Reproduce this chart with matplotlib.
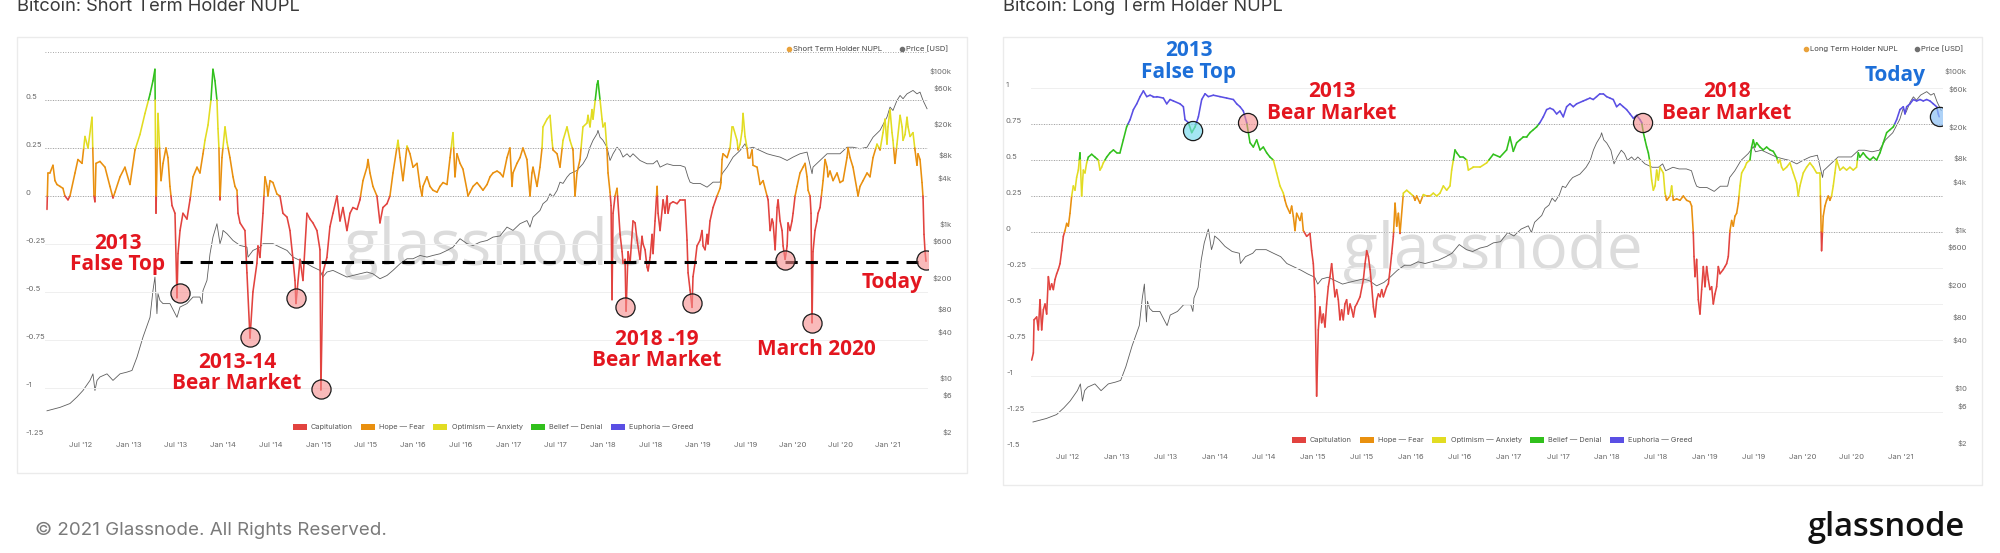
import numpy as np
import matplotlib
matplotlib.use("Agg")
import matplotlib.pyplot as plt
from matplotlib.collections import LineCollection
from matplotlib.patches import Rectangle, Patch
from matplotlib.lines import Line2D
from matplotlib.ticker import NullLocator

# ---- data (time in decimal years) ----

# Short Term Holder NUPL
sth_t = [2012.142, 2012.152, 2012.173, 2012.205, 2012.226, 2012.247, 2012.279, 2012.310, 2012.331, 2012.363, 2012.384, 2012.437, 2012.468, 2012.511, 2012.542, 2012.574, 2012.616, 2012.637, 2012.647, 2012.658, 2012.700, 2012.753, 2012.805, 2012.837, 2012.858, 2012.911, 2012.963,
         2013.016, 2013.069, 2013.121, 2013.174, 2013.227, 2013.258, 2013.279, 2013.290, 2013.311, 2013.343, 2013.364, 2013.395, 2013.416, 2013.437, 2013.459, 2013.490, 2013.511, 2013.522, 2013.543, 2013.574, 2013.616, 2013.648, 2013.680, 2013.722, 2013.753, 2013.785, 2013.806, 2013.838, 2013.869, 2013.890, 2013.911, 2013.932, 2013.943, 2013.953, 2013.964, 2013.985,
         2014.017, 2014.038, 2014.069, 2014.101, 2014.122, 2014.143, 2014.154, 2014.175, 2014.227, 2014.248, 2014.280, 2014.311, 2014.353, 2014.364, 2014.385, 2014.417, 2014.438, 2014.459, 2014.469, 2014.491, 2014.522, 2014.564, 2014.596, 2014.627, 2014.670, 2014.701, 2014.733, 2014.754, 2014.764, 2014.807, 2014.838, 2014.880, 2014.912, 2014.943, 2014.985,
         2015.017, 2015.027, 2015.048, 2015.090, 2015.122, 2015.154, 2015.196, 2015.228, 2015.259, 2015.301, 2015.333, 2015.364, 2015.407, 2015.438, 2015.470, 2015.512, 2015.523, 2015.544, 2015.575, 2015.617, 2015.649, 2015.680, 2015.723, 2015.754, 2015.786, 2015.839, 2015.860, 2015.891, 2015.934, 2015.965, 2015.997,
         2016.039, 2016.071, 2016.092, 2016.102, 2016.144, 2016.176, 2016.207, 2016.250, 2016.281, 2016.313, 2016.355, 2016.387, 2016.418, 2016.439, 2016.460, 2016.492, 2016.523, 2016.566, 2016.576, 2016.597, 2016.629, 2016.671, 2016.703, 2016.734, 2016.777, 2016.808, 2016.840, 2016.882, 2016.913, 2016.945, 2016.987,
         2017.018, 2017.040, 2017.050, 2017.092, 2017.124, 2017.155, 2017.197, 2017.229, 2017.250, 2017.261, 2017.303, 2017.334, 2017.356, 2017.366, 2017.408, 2017.440, 2017.461, 2017.471, 2017.514, 2017.545, 2017.577, 2017.619, 2017.650, 2017.682, 2017.703, 2017.724, 2017.756, 2017.787, 2017.829, 2017.840, 2017.861, 2017.882, 2017.893, 2017.935, 2017.945, 2017.967, 2017.988, 2017.998,
         2018.019, 2018.040, 2018.051, 2018.072, 2018.083, 2018.093, 2018.104, 2018.125, 2018.146, 2018.178, 2018.199, 2018.209, 2018.230, 2018.241, 2018.262, 2018.283, 2018.314, 2018.336, 2018.357, 2018.388, 2018.409, 2018.420, 2018.441, 2018.462, 2018.473, 2018.494, 2018.515, 2018.525, 2018.546, 2018.568, 2018.578, 2018.599, 2018.631, 2018.652, 2018.673, 2018.683, 2018.704, 2018.736, 2018.778, 2018.810, 2018.841, 2018.862, 2018.883, 2018.894, 2018.915, 2018.936, 2018.946, 2018.967, 2018.988,
         2019.020, 2019.041, 2019.052, 2019.073, 2019.094, 2019.104, 2019.125, 2019.157, 2019.199, 2019.231, 2019.241, 2019.252, 2019.262, 2019.305, 2019.336, 2019.357, 2019.368, 2019.410, 2019.421, 2019.442, 2019.463, 2019.473, 2019.494, 2019.515, 2019.526, 2019.547, 2019.568, 2019.578, 2019.621, 2019.652, 2019.684, 2019.726, 2019.737, 2019.758, 2019.779, 2019.790, 2019.811, 2019.832, 2019.842, 2019.863, 2019.884, 2019.895, 2019.916, 2019.937, 2019.947, 2019.968, 2019.989,
         2020.000, 2020.021, 2020.042, 2020.073, 2020.105, 2020.126, 2020.147, 2020.158, 2020.179, 2020.189, 2020.200, 2020.210, 2020.231, 2020.252, 2020.263, 2020.284, 2020.305, 2020.316, 2020.337, 2020.358, 2020.368, 2020.389, 2020.421, 2020.463, 2020.494, 2020.526, 2020.568, 2020.579, 2020.600, 2020.631, 2020.674, 2020.684, 2020.705, 2020.737, 2020.779, 2020.810, 2020.842, 2020.884, 2020.916, 2020.947, 2020.968, 2020.989,
         2021.000, 2021.021, 2021.042, 2021.052, 2021.073, 2021.094, 2021.127, 2021.148, 2021.158, 2021.179, 2021.200, 2021.211, 2021.232, 2021.263, 2021.284, 2021.305, 2021.316, 2021.337, 2021.358, 2021.369, 2021.379, 2021.390, 2021.400]
sth_v = [-0.07, 0.12, 0.12, 0.16, 0.08, 0.06, 0.05, 0.04, 0.00, -0.02, 0.00, 0.12, 0.19, 0.17, 0.31, 0.25, 0.41, 0.00, -0.03, 0.17, 0.18, 0.15, 0.05, -0.01, 0.02, 0.10, 0.15,
         0.06, 0.24, 0.32, 0.43, 0.53, 0.60, 0.66, -0.09, 0.43, 0.08, 0.17, 0.25, 0.20, 0.05, -0.05, -0.09, -0.53, -0.30, -0.18, -0.09, -0.12, -0.02, 0.10, 0.15, 0.12, 0.22, 0.29, 0.37, 0.50, 0.66, 0.60, 0.50, 0.35, 0.25, -0.02, 0.20,
         0.36, 0.28, 0.20, 0.10, 0.05, 0.03, -0.09, -0.14, -0.18, -0.40, -0.74, -0.50, -0.35, -0.26, -0.32, -0.09, 0.10, 0.05, 0.00, 0.08, 0.07, 0.01, 0.00, -0.09, -0.11, -0.18, -0.33, -0.44, -0.56, -0.33, -0.44, -0.09, -0.12, -0.14, -0.18,
         -0.28, -1.01, -0.40, -0.32, -0.16, -0.09, 0.00, -0.13, -0.06, -0.18, -0.09, -0.06, -0.07, -0.02, 0.08, 0.15, 0.19, 0.12, 0.05, 0.00, -0.14, -0.06, -0.04, 0.00, 0.12, 0.29, 0.20, 0.08, 0.26, 0.22, 0.15,
         0.17, 0.05, 0.00, 0.05, 0.10, 0.05, 0.03, 0.02, 0.05, 0.07, 0.06, 0.20, 0.33, 0.10, 0.22, 0.17, 0.14, 0.03, 0.00, 0.02, 0.05, 0.07, 0.05, 0.03, 0.06, 0.10, 0.12, 0.13, 0.12, 0.10, 0.20,
         0.25, 0.05, 0.12, 0.17, 0.20, 0.25, 0.19, 0.00, 0.12, 0.15, 0.05, 0.15, 0.25, 0.36, 0.40, 0.42, 0.29, 0.24, 0.22, 0.15, 0.29, 0.36, 0.29, 0.24, 0.00, 0.12, 0.19, 0.36, 0.38, 0.42, 0.36, 0.45, 0.40, 0.58, 0.60, 0.50, 0.40, 0.36,
         0.38, 0.24, 0.12, 0.02, -0.05, -0.54, -0.09, 0.00, 0.04, -0.20, -0.29, -0.35, -0.33, -0.60, -0.29, -0.35, -0.13, -0.14, -0.23, -0.33, -0.21, -0.25, -0.28, -0.37, -0.39, -0.32, -0.20, -0.30, -0.13, 0.05, -0.09, -0.18, -0.02, -0.09, 0.00, -0.09, -0.04, -0.03, -0.04, -0.02, -0.02, -0.02, -0.23, -0.40, -0.49, -0.58, -0.42, -0.35, -0.26,
         -0.23, -0.18, -0.26, -0.28, -0.20, -0.25, -0.13, -0.06, 0.00, 0.04, 0.07, 0.19, 0.22, 0.20, 0.25, 0.36, 0.36, 0.29, 0.24, 0.27, 0.34, 0.43, 0.31, 0.25, 0.20, 0.20, 0.24, 0.16, 0.15, 0.06, 0.08, 0.00, -0.02, -0.18, -0.12, -0.14, -0.28, -0.06, -0.02, -0.13, -0.18, -0.26, -0.33, -0.26, -0.14, -0.18, -0.13,
         -0.09, 0.00, 0.05, 0.12, 0.15, 0.17, 0.10, 0.03, 0.00, -0.09, -0.66, -0.29, -0.18, -0.13, -0.09, -0.06, 0.03, 0.08, 0.19, 0.15, 0.10, 0.13, 0.08, 0.12, 0.07, 0.08, 0.20, 0.25, 0.20, 0.15, 0.03, 0.00, 0.05, 0.08, 0.12, 0.10, 0.20, 0.27, 0.24, 0.33, 0.40, 0.27,
         0.36, 0.45, 0.33, 0.29, 0.17, 0.27, 0.42, 0.36, 0.29, 0.32, 0.41, 0.36, 0.31, 0.33, 0.24, 0.16, 0.22, 0.19, 0.07, -0.01, -0.20, -0.29, -0.34]

# Long Term Holder NUPL
lth_t = [2012.129, 2012.146, 2012.153, 2012.180, 2012.197, 2012.214, 2012.231, 2012.248, 2012.265, 2012.282, 2012.299, 2012.316, 2012.333, 2012.350, 2012.367, 2012.384, 2012.401, 2012.418, 2012.435, 2012.452, 2012.469, 2012.486, 2012.503, 2012.520, 2012.537, 2012.554, 2012.571, 2012.588, 2012.605, 2012.622, 2012.639, 2012.656, 2012.673, 2012.690, 2012.707, 2012.741, 2012.775, 2012.809, 2012.826, 2012.843, 2012.860, 2012.894, 2012.928, 2012.963, 2012.997,
         2013.030, 2013.064, 2013.098, 2013.133, 2013.167, 2013.201, 2013.235, 2013.269, 2013.303, 2013.337, 2013.371, 2013.405, 2013.473, 2013.507, 2013.541, 2013.575, 2013.643, 2013.677, 2013.694, 2013.728, 2013.762, 2013.796, 2013.830, 2013.864, 2013.898, 2013.932, 2013.983, 2014.051, 2014.119, 2014.187, 2014.221, 2014.255, 2014.289, 2014.323, 2014.340, 2014.357, 2014.391, 2014.425, 2014.459, 2014.493, 2014.527, 2014.561, 2014.595, 2014.629, 2014.663, 2014.697, 2014.714, 2014.731, 2014.765, 2014.782, 2014.799, 2014.816, 2014.833, 2014.867, 2014.884, 2014.901, 2014.935, 2014.969, 2014.986,
         2015.003, 2015.020, 2015.037, 2015.054, 2015.071, 2015.088, 2015.105, 2015.122, 2015.139, 2015.156, 2015.173, 2015.190, 2015.207, 2015.224, 2015.241, 2015.258, 2015.275, 2015.292, 2015.309, 2015.326, 2015.343, 2015.360, 2015.378, 2015.395, 2015.412, 2015.429, 2015.446, 2015.480, 2015.514, 2015.531, 2015.548, 2015.565, 2015.582, 2015.599, 2015.616, 2015.633, 2015.650, 2015.667, 2015.684, 2015.701, 2015.718, 2015.752, 2015.769, 2015.786, 2015.803, 2015.820, 2015.837, 2015.854, 2015.871, 2015.888, 2015.922, 2015.956, 2015.990,
         2016.024, 2016.041, 2016.058, 2016.092, 2016.126, 2016.160, 2016.194, 2016.228, 2016.262, 2016.296, 2016.330, 2016.364, 2016.398, 2016.415, 2016.449, 2016.466, 2016.500, 2016.534, 2016.568, 2016.585, 2016.636, 2016.704, 2016.772, 2016.840, 2016.908, 2016.976,
         2017.010, 2017.044, 2017.078, 2017.112, 2017.146, 2017.180, 2017.214, 2017.248, 2017.282, 2017.316, 2017.350, 2017.384, 2017.418, 2017.452, 2017.486, 2017.520, 2017.554, 2017.588, 2017.622, 2017.656, 2017.690, 2017.758, 2017.792, 2017.826, 2017.860, 2017.894, 2017.928, 2017.962, 2017.996, 2018.030, 2018.064, 2018.098, 2018.132, 2018.166, 2018.200, 2018.235, 2018.269, 2018.303, 2018.337, 2018.354, 2018.371, 2018.388, 2018.405, 2018.422, 2018.439, 2018.456, 2018.473, 2018.490, 2018.507, 2018.524, 2018.541, 2018.575, 2018.592, 2018.609, 2018.643, 2018.660, 2018.677, 2018.711, 2018.745, 2018.779, 2018.813, 2018.847, 2018.864, 2018.881,
         2018.888, 2018.898, 2018.915, 2018.932, 2018.949, 2018.966, 2018.983, 2019.000, 2019.017, 2019.034, 2019.051, 2019.068, 2019.085, 2019.102, 2019.119, 2019.136, 2019.153, 2019.187, 2019.204, 2019.221, 2019.238, 2019.255, 2019.272, 2019.289, 2019.306, 2019.323, 2019.340, 2019.357, 2019.374, 2019.391, 2019.408, 2019.425, 2019.459, 2019.476, 2019.493, 2019.510, 2019.527, 2019.561, 2019.595, 2019.629, 2019.663, 2019.697, 2019.731, 2019.748, 2019.765, 2019.782, 2019.799, 2019.833, 2019.867, 2019.901, 2019.935, 2019.952, 2019.969,
         2020.003, 2020.037, 2020.071, 2020.105, 2020.139, 2020.173, 2020.190, 2020.207, 2020.224, 2020.241, 2020.258, 2020.275, 2020.292, 2020.309, 2020.326, 2020.343, 2020.377, 2020.411, 2020.445, 2020.479, 2020.513, 2020.547, 2020.564, 2020.581, 2020.615, 2020.649, 2020.684, 2020.718, 2020.752, 2020.786, 2020.820, 2020.854, 2020.888, 2020.922, 2020.956, 2020.990, 2021.024, 2021.041, 2021.058, 2021.092, 2021.126, 2021.160, 2021.194, 2021.228, 2021.262, 2021.296, 2021.330, 2021.364, 2021.381, 2021.390]
lth_v = [-0.89, -0.84, -0.61, -0.59, -0.68, -0.47, -0.68, -0.54, -0.50, -0.57, -0.31, -0.40, -0.36, -0.40, -0.33, -0.29, -0.26, -0.22, -0.13, -0.03, 0.01, 0.06, 0.04, 0.13, 0.25, 0.32, 0.29, 0.38, 0.43, 0.55, 0.25, 0.43, 0.41, 0.48, 0.52, 0.54, 0.52, 0.50, 0.43, 0.45, 0.48, 0.52, 0.55, 0.57, 0.55,
         0.55, 0.64, 0.73, 0.78, 0.85, 0.89, 0.94, 0.98, 0.94, 0.95, 0.94, 0.94, 0.93, 0.89, 0.92, 0.91, 0.89, 0.87, 0.78, 0.76, 0.69, 0.73, 0.80, 0.92, 0.96, 0.94, 0.95, 0.94, 0.93, 0.92, 0.89, 0.87, 0.84, 0.76, 0.69, 0.62, 0.59, 0.64, 0.57, 0.59, 0.55, 0.52, 0.50, 0.41, 0.32, 0.27, 0.22, 0.18, 0.13, 0.18, 0.11, 0.01, 0.13, 0.08, 0.13, 0.01, -0.03, -0.01, -0.13,
         -0.22, -0.45, -1.14, -0.68, -0.52, -0.63, -0.57, -0.66, -0.50, -0.38, -0.31, -0.22, -0.33, -0.45, -0.40, -0.47, -0.61, -0.54, -0.61, -0.50, -0.47, -0.57, -0.50, -0.54, -0.59, -0.52, -0.50, -0.45, -0.33, -0.22, -0.13, -0.17, -0.26, -0.38, -0.52, -0.59, -0.47, -0.43, -0.45, -0.40, -0.45, -0.38, -0.36, -0.26, -0.15, -0.03, 0.20, 0.04, 0.13, -0.01, 0.27, 0.29, 0.27,
         0.25, 0.22, 0.25, 0.20, 0.26, 0.25, 0.25, 0.27, 0.25, 0.27, 0.32, 0.29, 0.32, 0.43, 0.57, 0.55, 0.52, 0.52, 0.50, 0.43, 0.45, 0.45, 0.48, 0.54, 0.52, 0.57,
         0.66, 0.56, 0.62, 0.64, 0.66, 0.66, 0.69, 0.71, 0.73, 0.76, 0.80, 0.85, 0.86, 0.85, 0.82, 0.84, 0.80, 0.87, 0.89, 0.87, 0.89, 0.91, 0.92, 0.93, 0.92, 0.94, 0.96, 0.96, 0.94, 0.93, 0.92, 0.87, 0.89, 0.87, 0.85, 0.82, 0.79, 0.81, 0.78, 0.76, 0.69, 0.64, 0.59, 0.55, 0.48, 0.36, 0.29, 0.32, 0.43, 0.36, 0.45, 0.41, 0.27, 0.22, 0.25, 0.32, 0.22, 0.23, 0.22, 0.25, 0.22, 0.21, 0.18, -0.01,
         -0.17, -0.31, -0.19, -0.47, -0.57, -0.40, -0.24, -0.38, -0.24, -0.33, -0.40, -0.38, -0.50, -0.43, -0.38, -0.24, -0.29, -0.26, -0.24, -0.22, -0.17, 0.01, 0.08, 0.04, 0.11, 0.13, 0.20, 0.32, 0.41, 0.43, 0.45, 0.48, 0.50, 0.59, 0.64, 0.59, 0.62, 0.59, 0.57, 0.59, 0.57, 0.56, 0.52, 0.48, 0.50, 0.45, 0.43, 0.45, 0.48, 0.41, 0.34, 0.25, 0.32,
         0.41, 0.45, 0.48, 0.45, 0.41, 0.41, -0.13, 0.11, 0.18, 0.22, 0.25, 0.22, 0.25, 0.32, 0.41, 0.50, 0.43, 0.45, 0.43, 0.45, 0.43, 0.45, 0.55, 0.52, 0.55, 0.52, 0.50, 0.52, 0.50, 0.55, 0.62, 0.69, 0.71, 0.73, 0.78, 0.85, 0.87, 0.82, 0.87, 0.89, 0.92, 0.91, 0.92, 0.91, 0.92, 0.91, 0.89, 0.87, 0.82, 0.80]

# Bitcoin price [USD]
price_t = [2012.142, 2012.279, 2012.384, 2012.458, 2012.521, 2012.595, 2012.626, 2012.647, 2012.669, 2012.700, 2012.774, 2012.837, 2012.911, 2012.984,
           2013.037, 2013.090, 2013.153, 2013.227, 2013.258, 2013.279, 2013.300, 2013.311, 2013.332, 2013.364, 2013.437, 2013.511, 2013.543, 2013.616, 2013.680, 2013.753, 2013.774, 2013.785, 2013.827, 2013.859, 2013.890, 2013.932, 2013.964, 2013.985, 2013.996,
           2014.038, 2014.101, 2014.175, 2014.248, 2014.259, 2014.311, 2014.385, 2014.417, 2014.522, 2014.596, 2014.670, 2014.733, 2014.807, 2014.880, 2014.943,
           2015.017, 2015.048, 2015.090, 2015.154, 2015.228, 2015.301, 2015.364, 2015.438, 2015.512, 2015.575, 2015.649, 2015.723, 2015.786, 2015.860, 2015.934, 2015.997,
           2016.071, 2016.144, 2016.207, 2016.281, 2016.355, 2016.418, 2016.492, 2016.566, 2016.629, 2016.703, 2016.777, 2016.840, 2016.913, 2016.987,
           2017.050, 2017.124, 2017.197, 2017.229, 2017.261, 2017.334, 2017.366, 2017.408, 2017.440, 2017.471, 2017.514, 2017.545, 2017.577, 2017.619, 2017.650, 2017.724, 2017.756, 2017.787, 2017.829, 2017.861, 2017.893, 2017.935, 2017.945, 2017.967, 2017.998,
           2018.040, 2018.072, 2018.104, 2018.146, 2018.178, 2018.209, 2018.251, 2018.283, 2018.314, 2018.388, 2018.462, 2018.525, 2018.568, 2018.599, 2018.673, 2018.736, 2018.810, 2018.862, 2018.894, 2018.915, 2018.946,
           2019.020, 2019.094, 2019.157, 2019.231, 2019.252, 2019.305, 2019.368, 2019.442, 2019.494, 2019.515, 2019.578, 2019.652, 2019.726, 2019.790, 2019.863, 2019.937,
           2020.000, 2020.073, 2020.147, 2020.200, 2020.210, 2020.284, 2020.358, 2020.421, 2020.494, 2020.568, 2020.631, 2020.705, 2020.779, 2020.842, 2020.916, 2020.989, 2021.021, 2021.052, 2021.094, 2021.127, 2021.158, 2021.200, 2021.232, 2021.263, 2021.305, 2021.337, 2021.369, 2021.411]
price_usd = [3.7, 4.1, 4.6, 5.6, 6.8, 9.2, 11.2, 6.8, 9.2, 10.2, 11.2, 9.2, 11.2, 11.8,
             12.4, 18.5, 33.7, 61, 136, 204, 68, 124, 101, 92, 92, 61, 83, 92, 112, 112, 92, 136, 185, 410, 676, 1010, 555, 676, 826,
             748, 611, 526, 500, 371, 453, 500, 555, 555, 500, 453, 371, 336, 304, 275,
             249, 204, 237, 249, 225, 204, 214, 225, 237, 225, 194, 214, 249, 304, 353, 353,
             390, 371, 390, 410, 453, 500, 644, 555, 526, 581, 611, 676, 700, 912,
             826, 1010, 1110, 912, 1230, 1500, 1840, 2030, 2480, 2250, 2740, 3510, 3380, 4080, 4520, 4990, 5510, 6090, 7440, 10000, 12300, 15000, 16600, 13500, 12300,
             10000, 6720, 8220, 10000, 9080, 7440, 8220, 7440, 8220, 6720, 6090, 6090, 6720, 5510, 6090, 5800, 5800, 5510, 4080, 3510, 3380,
             3380, 3020, 3510, 3510, 4520, 5510, 7440, 9080, 11100, 9550, 10000, 9080, 8220, 7820, 7440, 6720,
             7440, 8220, 8640, 4520, 5510, 6720, 8220, 8220, 8220, 10000, 10000, 9550, 10000, 13500, 16600, 24700, 33300, 30100, 40600, 47200, 42800, 49600, 52200, 54900, 49600, 52200, 40600, 31700]

assert len(sth_t) == len(sth_v) and len(lth_t) == len(lth_v) and len(price_t) == len(price_usd)

# NUPL zones
band_edges = [0, 0.25, 0.5, 0.75]
band_colors = ["#e2433f", "#e9900f", "#e2dc22", "#31c01c", "#5a4fe4"]
band_names = ["Capitulation", "Hope — Fear", "Optimism — Anxiety", "Belief — Denial", "Euphoria — Greed"]

# price axis ticks
price_ticks = [2, 6, 10, 40, 80, 200, 600, 1000, 4000, 8000, 20000, 60000, 100000]
price_labels = ["$2", "$6", "$10", "$40", "$80", "$200", "$600", "$1k", "$4k", "$8k", "$20k", "$60k", "$100k"]

# date ticks
date_ticks = [2012.5 + 0.5 * i for i in range(18)]
date_labels = [("Jul '%02d" if i % 2 == 0 else "Jan '%02d") % ((12 + (i + 1) // 2)) for i in range(18)]

# circled points and the dashed level (STH chart)
sth_circle_t = [2013.543, 2014.280, 2014.764, 2015.027, 2018.230, 2018.936, 2019.916, 2020.200, 2021.400]
sth_circle_v = [-0.505, -0.734, -0.531, -1.005, -0.578, -0.557, -0.333, -0.661, -0.333]
sth_level = -0.343
lth_circle_t = [2013.776, 2014.337, 2018.368, 2021.398]
lth_circle_v = [0.701, 0.757, 0.757, 0.799]

W, H = 2000, 553
plt.rcParams["font.family"] = ["Inter", "DejaVu Sans"]
fig = plt.figure(figsize=(W / 100, H / 100), dpi=100)

RED = "#e3161f"
BLUE = "#1d6fd8"
WIDE = ["Open Sans", "DejaVu Sans"]


def band_segments(t, v):
    # split each segment where it crosses a zone edge, colour by zone
    segs, cols = [], []
    for t0, v0, t1, v1 in zip(t[:-1], v[:-1], t[1:], v[1:]):
        cuts = sorted([b for b in band_edges if min(v0, v1) < b < max(v0, v1)], reverse=v1 < v0)
        pts = [(t0, v0)] + [(t0 + (b - v0) / (v1 - v0) * (t1 - t0), b) for b in cuts] + [(t1, v1)]
        for a, b in zip(pts[:-1], pts[1:]):
            segs.append([a, b])
            cols.append(band_colors[np.searchsorted(band_edges, (a[1] + b[1]) / 2)])
    return segs, cols


def panel(box, xlim, ylim, nupl_ticks, ylab_pad, plab_pad):
    x0, y0, x1, y1 = box
    axp = fig.add_axes([x0 / W, 1 - y1 / H, (x1 - x0) / W, (y1 - y0) / H])
    ax = axp.twinx()
    # NUPL on the left, price on the right
    ax.yaxis.tick_left()
    axp.yaxis.tick_right()
    ax.set_zorder(2)
    axp.set_zorder(1)
    ax.patch.set_visible(False)
    axp.patch.set_visible(False)
    for a in (ax, axp):
        for s in a.spines.values():
            s.set_visible(False)
    ax.set_xlim(xlim)
    ax.set_ylim(ylim)

    axp.set_yscale("log")
    axp.set_ylim(10 ** 0.24, 10 ** 5.24)
    axp.set_yticks(price_ticks)
    axp.set_yticklabels(price_labels)
    axp.yaxis.set_minor_locator(NullLocator())
    axp.tick_params(axis="y", length=0, pad=plab_pad, labelsize=5.5, labelcolor="#6a6a6a")
    for lab in axp.get_yticklabels():
        lab.set_horizontalalignment("right")

    ax.set_yticks(nupl_ticks)
    ax.set_yticklabels(["%g" % v for v in nupl_ticks])
    ax.tick_params(axis="y", length=0, pad=ylab_pad, labelsize=5.5, labelcolor="#6a6a6a")
    for lab in ax.get_yticklabels():
        lab.set_horizontalalignment("left")
        lab.set_verticalalignment("bottom")

    axp.set_xticks(date_ticks)
    axp.set_xticklabels(date_labels)
    axp.tick_params(axis="x", length=0, pad=4.5, labelsize=5.5, labelcolor="#6a6a6a")
    ax.tick_params(axis="x", length=0, labelbottom=False)

    for yv in nupl_ticks:
        ax.axhline(yv, color="#efefef", lw=0.7, zorder=0)
    for b in band_edges:
        if ylim[0] < b <= ylim[1]:
            ax.axhline(b, color="#8c8c8c", lw=0.6, ls=(0, (1, 2)), zorder=0.5)
    return ax, axp


def card(x0, y0, x1, y1):
    fig.add_artist(Rectangle((x0 / W, 1 - y1 / H), (x1 - x0) / W, (y1 - y0) / H,
                             transform=fig.transFigure, facecolor="none",
                             edgecolor="#ebebeb", lw=1.0, zorder=-2))


def notes(ax, x, y, s, color):
    ax.text(x, y, s, color=color, fontsize=15, weight="bold", family=WIDE,
            ha="center", va="center", linespacing=1.05, zorder=6)


# ---------------- left: Short Term Holder NUPL ----------------
card(17, 37, 967, 473)
fig.text(17 / W, 1 - 11 / H, "Bitcoin: Short Term Holder NUPL", fontsize=13.2, color="#3a3a3a", va="baseline")
ax1, axp1 = panel((45, 52, 928, 436), (2012.121, 2021.421), (-1.25, 0.75),
                  [-1.25, -1.0, -0.75, -0.5, -0.25, 0, 0.25, 0.5], 14.4, 17.3)
axp1.plot(price_t, price_usd, color="#5e5e5e", lw=0.6)
segs, cols = band_segments(sth_t, sth_v)
ax1.add_collection(LineCollection(segs, colors=cols, lw=1.15, capstyle="round", zorder=3))
ax1.plot([sth_circle_t[0], 2021.348], [sth_level, sth_level], color="black", lw=2.2,
         ls=(0, (4, 2.6)), zorder=4)
ax1.scatter(sth_circle_t, sth_circle_v, s=190, facecolors=[(0.96, 0.55, 0.55, 0.6)],
            edgecolors="#1a1a1a", linewidths=0.9, zorder=5)
notes(ax1, 2012.890, -0.302, "2013\nFalse Top", RED)
notes(ax1, 2014.143, -0.922, "2013-14\nBear Market", RED)
notes(ax1, 2018.567, -0.802, "2018 -19\nBear Market", RED)
notes(ax1, 2020.242, -0.797, "March 2020", RED)
notes(ax1, 2021.042, -0.453, "Today", RED)

# ---------------- right: Long Term Holder NUPL ----------------
card(1003, 37, 1982, 485)
fig.text(1003 / W, 1 - 11 / H, "Bitcoin: Long Term Holder NUPL", fontsize=13.2, color="#3a3a3a", va="baseline")
ax2, axp2 = panel((1031, 52, 1943, 448), (2012.122, 2021.429), (-1.5, 1.25),
                  [-1.5, -1.25, -1.0, -0.75, -0.5, -0.25, 0, 0.25, 0.5, 0.75, 1.0], 18.0, 17.3)
axp2.plot(price_t, price_usd, color="#5e5e5e", lw=0.6)
segs, cols = band_segments(lth_t, lth_v)
ax2.add_collection(LineCollection(segs, colors=cols, lw=1.15, capstyle="round", zorder=3))
ax2.scatter(lth_circle_t, lth_circle_v, s=190,
            facecolors=[(0.45, 0.85, 0.93, 0.65), (0.96, 0.55, 0.55, 0.6),
                        (0.96, 0.55, 0.55, 0.6), (0.55, 0.75, 0.96, 0.7)],
            edgecolors="#1a1a1a", linewidths=0.9, zorder=5)
notes(ax2, 2013.735, 1.184, "2013\nFalse Top", BLUE)
notes(ax2, 2015.194, 0.899, "2013\nBear Market", RED)
notes(ax2, 2019.225, 0.899, "2018\nBear Market", RED)
notes(ax2, 2020.939, 1.090, "Today", BLUE)

# watermarks
for cx, cy in [(494, 248), (1493, 252)]:
    fig.text(cx / W, 1 - cy / H, "glassnode", fontsize=46, color="#dcdcdc", ha="center", va="center",
             family=WIDE, zorder=-1)

# legends
for xr, label in [(952, "Short Term Holder NUPL"), (1967, "Long Term Holder NUPL")]:
    handles = [Line2D([], [], ls="", marker="o", ms=3, color="#e9a23b"),
               Line2D([], [], ls="", marker="o", ms=3, color="#707070")]
    fig.legend(handles, [label, "Price [USD]"], loc="center right", bbox_to_anchor=(xr / W, 1 - 49 / H),
               ncol=2, frameon=False, fontsize=5.5, handletextpad=0.1, columnspacing=2.2,
               handlelength=0.8, borderpad=0, labelcolor="#444444")

for cx, cy in [(493, 427), (1492, 440)]:
    handles = [Patch(facecolor=c, edgecolor="none") for c in band_colors]
    fig.legend(handles, band_names, loc="center", bbox_to_anchor=(cx / W, 1 - cy / H), ncol=5,
               frameon=False, fontsize=5.3, handlelength=1.9, handleheight=1.0, handletextpad=0.6,
               columnspacing=1.1, borderpad=0, labelcolor="#555555")

# footer
fig.text(35 / W, 1 - 530 / H, "© 2021 Glassnode. All Rights Reserved.", fontsize=13.5, color="#7a7a7a", va="center")
fig.text(1965 / W, 1 - 527 / H, "glassnode", fontsize=23.5, color="#111111", ha="right", va="center",
         family=WIDE, weight="semibold")

fig.savefig("out.png", dpi=100, facecolor="white")
